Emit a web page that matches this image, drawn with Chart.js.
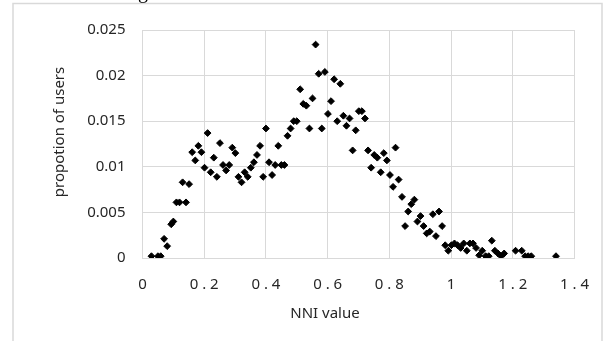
<!DOCTYPE html>
<html>
<head>
<meta charset="utf-8">
<script src="https://cdn.jsdelivr.net/npm/chart.js@4.4.0/dist/chart.umd.min.js"></script>
<style>
  html, body { margin: 0; padding: 0; background: #fff; }
  #wrap { width: 607px; height: 341px; position: relative; }
</style>
</head>
<body>
<div id="wrap"><canvas id="nniChart"></canvas></div>
<script>
// NNI value (x) and proportion of users (y)
var nniValues = [
  0.029, 0.050, 0.059, 0.070, 0.080, 0.093, 0.100, 0.110, 0.120, 0.130,
  0.141, 0.151, 0.161, 0.171, 0.181, 0.191, 0.201, 0.211, 0.221, 0.231,
  0.241, 0.251, 0.261, 0.271, 0.281, 0.291, 0.301, 0.311, 0.321, 0.331,
  0.341, 0.351, 0.361, 0.371, 0.381, 0.391, 0.400, 0.410, 0.420, 0.430,
  0.440, 0.450, 0.460, 0.470, 0.480, 0.490, 0.500, 0.511, 0.521, 0.531,
  0.541, 0.551, 0.561, 0.571, 0.581, 0.591, 0.601, 0.611, 0.621, 0.631,
  0.641, 0.651, 0.661, 0.671, 0.681, 0.691, 0.701, 0.711, 0.721, 0.731,
  0.741, 0.751, 0.761, 0.772, 0.782, 0.792, 0.802, 0.812, 0.820, 0.830,
  0.841, 0.851, 0.861, 0.871, 0.881, 0.891, 0.901, 0.911, 0.921, 0.931,
  0.941, 0.951, 0.961, 0.971, 0.981, 0.991, 1.001, 1.011, 1.021, 1.031,
  1.041, 1.051, 1.061, 1.071, 1.081, 1.091, 1.101, 1.112, 1.122, 1.132,
  1.142, 1.152, 1.162, 1.172, 1.209, 1.229, 1.240, 1.250, 1.260, 1.340
];
var userShares = [
  0.0002, 0.0002, 0.0002, 0.0021, 0.0013, 0.0037, 0.0040, 0.0061, 0.0061, 0.0083,
  0.0061, 0.0081, 0.0116, 0.0107, 0.0123, 0.0116, 0.0099, 0.0137, 0.0094, 0.0110,
  0.0089, 0.0126, 0.0102, 0.0096, 0.0102, 0.0121, 0.0115, 0.0089, 0.0083, 0.0094,
  0.0089, 0.0099, 0.0105, 0.0113, 0.0123, 0.0089, 0.0142, 0.0105, 0.0091, 0.0102,
  0.0123, 0.0102, 0.0102, 0.0134, 0.0142, 0.0150, 0.0150, 0.0185, 0.0169, 0.0167,
  0.0142, 0.0175, 0.0234, 0.0202, 0.0142, 0.0204, 0.0158, 0.0172, 0.0196, 0.0150,
  0.0191, 0.0156, 0.0145, 0.0153, 0.0118, 0.0140, 0.0161, 0.0161, 0.0153, 0.0118,
  0.0099, 0.0113, 0.0110, 0.0094, 0.0115, 0.0107, 0.0091, 0.0078, 0.0121, 0.0086,
  0.0067, 0.0035, 0.0051, 0.0059, 0.0064, 0.0040, 0.0046, 0.0035, 0.0027, 0.0029,
  0.0048, 0.0024, 0.0051, 0.0035, 0.0014, 0.0008, 0.0014, 0.0016, 0.0014, 0.0011,
  0.0016, 0.0008, 0.0016, 0.0016, 0.0011, 0.0003, 0.0008, 0.0002, 0.0002, 0.0019,
  0.0008, 0.0005, 0.0002, 0.0005, 0.0008, 0.0008, 0.0002, 0.0002, 0.0002, 0.0002
];

var xTickValues = [0, 0.2, 0.4, 0.6, 0.8, 1, 1.2, 1.4];
var xTickLabels = ['0', '0 . 2', '0 . 4', '0 . 6', '0 . 8', '1', '1 . 2', '1 . 4'];
var yTickValues = [0, 0.005, 0.01, 0.015, 0.02, 0.025];
var yTickLabels = ['0', '0.005', '0.01', '0.015', '0.02', '0.025'];

var xTitle = 'NNI value';
var yTitle = 'propotion of users';

var points = [];
for (var i = 0; i < nniValues.length; i++) {
  points.push({ x: nniValues[i], y: userShares[i] });
}

var gridColor = '#d9d9d9';
var textColor = '#262626';
var fontFamily = '"Noto Sans", "Open Sans", sans-serif';

// frame, clipped caption letter and axis titles
var decorPlugin = {
  id: 'decor',
  beforeDraw: function (chart) {
    var ctx = chart.ctx;
    ctx.save();
    ctx.fillStyle = '#fff';
    ctx.fillRect(0, 0, chart.width, chart.height);
    ctx.strokeStyle = gridColor;
    ctx.lineWidth = 1.5;
    ctx.beginPath();
    ctx.moveTo(13, chart.height);
    ctx.lineTo(13, 3.5);
    ctx.lineTo(602, 3.5);
    ctx.lineTo(602, chart.height);
    ctx.stroke();
    // bottom of a caption letter cut off by the crop
    ctx.fillStyle = '#000';
    ctx.font = '20px "Liberation Serif", serif';
    ctx.textAlign = 'center';
    ctx.textBaseline = 'alphabetic';
    ctx.fillText('g', 143, -2);
    ctx.restore();
  },
  afterDraw: function (chart) {
    var ctx = chart.ctx;
    ctx.save();
    ctx.fillStyle = textColor;
    ctx.font = '15px ' + fontFamily;
    ctx.textAlign = 'center';
    ctx.textBaseline = 'middle';
    ctx.fillText(xTitle, 325, 314);
    ctx.translate(60, 132);
    ctx.rotate(-Math.PI / 2);
    ctx.fillText(yTitle, 0, 0);
    ctx.restore();
  }
};

new Chart(document.getElementById('nniChart'), {
  type: 'scatter',
  data: {
    datasets: [{
      data: points,
      pointStyle: 'rectRot',
      pointRadius: 3.4,
      pointHoverRadius: 3.4,
      backgroundColor: '#000',
      borderColor: '#000',
      borderWidth: 1
    }]
  },
  options: {
    responsive: true,
    maintainAspectRatio: false,
    animation: false,
    events: [],
    layout: { padding: { left: 0, right: 32.5, top: 30, bottom: 0 } },
    plugins: {
      legend: { display: false },
      tooltip: { enabled: false }
    },
    scales: {
      x: {
        type: 'linear',
        min: 0,
        max: 1.4,
        afterBuildTicks: function (scale) {
          scale.ticks = xTickValues.map(function (v) { return { value: v }; });
        },
        afterFit: function (scale) { scale.height = 83; },
        grid: { color: gridColor, lineWidth: 1, drawTicks: false },
        border: { color: gridColor, width: 1 },
        ticks: {
          padding: 18,
          color: textColor,
          font: { family: fontFamily, size: 15 },
          maxRotation: 0,
          callback: function (v) {
            var k = xTickValues.indexOf(Math.round(v * 10) / 10);
            return k >= 0 ? xTickLabels[k] : '';
          }
        }
      },
      y: {
        type: 'linear',
        min: 0,
        max: 0.025,
        afterBuildTicks: function (scale) {
          scale.ticks = yTickValues.map(function (v) { return { value: v }; });
        },
        afterFit: function (scale) { scale.width = 142.5; },
        grid: { color: gridColor, lineWidth: 1, drawTicks: false },
        border: { color: gridColor, width: 1 },
        ticks: {
          padding: 17,
          color: textColor,
          font: { family: fontFamily, size: 15 },
          callback: function (v) {
            var k = yTickValues.indexOf(Math.round(v * 1000) / 1000);
            return k >= 0 ? yTickLabels[k] : '';
          }
        }
      }
    }
  },
  plugins: [decorPlugin]
});
</script>
</body>
</html>
